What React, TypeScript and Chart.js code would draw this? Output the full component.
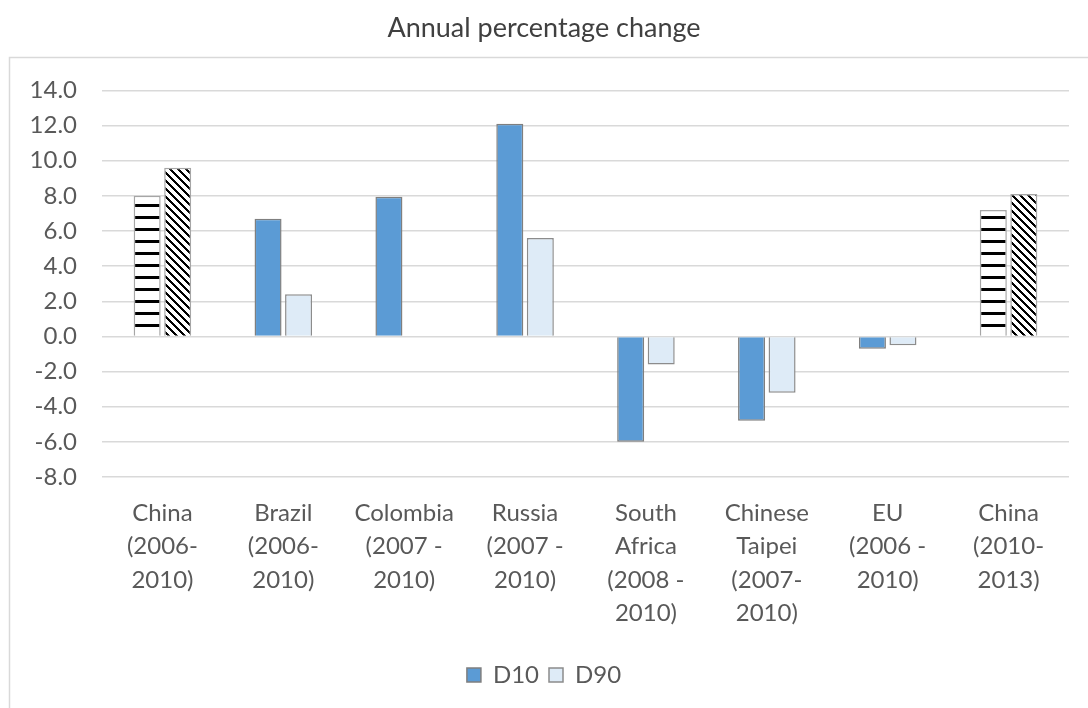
import { useEffect, useRef } from "react";
import { Chart, registerables } from "chart.js";

Chart.register(...registerables);

// Category labels, one array of lines per group
const categories: string[][] = [
  ["China", "(2006-", "2010)"],
  ["Brazil", "(2006-", "2010)"],
  ["Colombia", "(2007 -", "2010)"],
  ["Russia", "(2007 -", "2010)"],
  ["South", "Africa", "(2008 -", "2010)"],
  ["Chinese", "Taipei", "(2007-", "2010)"],
  ["EU", "(2006 -", "2010)"],
  ["China", "(2010-", "2013)"],
];

// Annual percentage change of the bottom (D10) and top (D90) deciles
const d10Values: (number | null)[] = [8.0, 6.7, 7.95, 12.1, -6.0, -4.8, -0.7, 7.2];
const d90Values: (number | null)[] = [9.6, 2.4, null, 5.6, -1.6, -3.2, -0.5, 8.1];

// Groups drawn with hatched fills instead of solid colours
const hatchedIndices: number[] = [0, 7];

const yMin = -8;
const yMax = 14;
const yStep = 2;

const FONT = "Lato, 'Open Sans', 'DejaVu Sans', sans-serif";
const TEXT = "#595959";
const GRID = "#d9d9d9";
const D10_COLOR = "#5B9BD5";
const D90_COLOR = "#DEEBF7";
const D10_BORDER = "#7f7f7f";
const D90_BORDER = "#8c8c8c";

function stripePattern(): CanvasPattern | string {
  const tile = document.createElement("canvas");
  tile.width = 8;
  tile.height = 12;
  const c = tile.getContext("2d");
  if (!c) return "#000";
  c.fillStyle = "#fff";
  c.fillRect(0, 0, 8, 12);
  c.fillStyle = "#000";
  c.fillRect(0, 0, 8, 3);
  return c.createPattern(tile, "repeat") || "#000";
}

function diagonalPattern(): CanvasPattern | string {
  const tile = document.createElement("canvas");
  tile.width = 8;
  tile.height = 8;
  const c = tile.getContext("2d");
  if (!c) return "#000";
  c.fillStyle = "#fff";
  c.fillRect(0, 0, 8, 8);
  c.fillStyle = "#000";
  for (let i = 0; i < 8; i++) {
    for (let k = 0; k < 3; k++) {
      c.fillRect((i + k) % 8, i, 1, 1);
    }
  }
  return c.createPattern(tile, "repeat") || "#000";
}

// Light frame around the plot region, open to the right and bottom
const framePlugin = {
  id: "outerFrame",
  beforeDraw(chart: Chart) {
    const { ctx, width, height } = chart;
    ctx.save();
    ctx.fillStyle = "#ffffff";
    ctx.fillRect(0, 0, width, height);
    ctx.strokeStyle = GRID;
    ctx.lineWidth = 1.5;
    ctx.beginPath();
    ctx.moveTo(9.5, height);
    ctx.lineTo(9.5, 57.5);
    ctx.lineTo(width, 57.5);
    ctx.stroke();
    ctx.restore();
  },
};

export default function App() {
  const canvasRef = useRef<HTMLCanvasElement | null>(null);

  useEffect(() => {
    const canvas = canvasRef.current;
    if (!canvas) return;
    const stripes = stripePattern();
    const diagonals = diagonalPattern();
    const isHatched = (c: any) => c.type === "data" && hatchedIndices.includes(c.dataIndex);

    const chart = new Chart(canvas, {
      type: "bar",
      data: {
        labels: categories,
        datasets: [
          {
            label: "D10",
            data: d10Values,
            backgroundColor: (c: any) => (isHatched(c) ? stripes : D10_COLOR),
            borderColor: (c: any) => (isHatched(c) ? "#a6a6a6" : D10_BORDER),
            borderWidth: 1.5,
            categoryPercentage: 0.505,
            barPercentage: 0.885,
          },
          {
            label: "D90",
            data: d90Values,
            backgroundColor: (c: any) => (isHatched(c) ? diagonals : D90_COLOR),
            borderColor: (c: any) => (isHatched(c) ? "#a6a6a6" : D90_BORDER),
            borderWidth: 1.5,
            categoryPercentage: 0.505,
            barPercentage: 0.885,
          },
        ],
      },
      options: {
        responsive: false,
        animation: false,
        layout: { padding: { left: 19, right: 19, top: 0, bottom: 11 } },
        plugins: {
          title: {
            display: true,
            text: "Annual percentage change",
            color: "#404040",
            font: { family: FONT, size: 27, weight: "normal", lineHeight: 1.2 },
            padding: { top: 12, bottom: 46 },
          },
          legend: {
            position: "bottom",
            labels: {
              color: TEXT,
              font: { family: FONT, size: 24 },
              boxWidth: 14,
              boxHeight: 14,
              padding: 10,
              generateLabels: () => [
                {
                  text: "D10",
                  fillStyle: D10_COLOR,
                  strokeStyle: D10_BORDER,
                  lineWidth: 1.5,
                  fontColor: TEXT,
                  hidden: false,
                  datasetIndex: 0,
                },
                {
                  text: "D90",
                  fillStyle: D90_COLOR,
                  strokeStyle: D90_BORDER,
                  lineWidth: 1.5,
                  fontColor: TEXT,
                  hidden: false,
                  datasetIndex: 1,
                },
              ],
            },
          },
          tooltip: { enabled: false },
        },
        scales: {
          x: {
            grid: { display: false, drawTicks: false },
            border: { display: false },
            ticks: {
              color: TEXT,
              font: { family: FONT, size: 24, lineHeight: 1.4 },
              padding: 19,
              maxRotation: 0,
              autoSkip: false,
            },
            afterFit(scale: any) {
              scale.height = 176;
            },
          },
          y: {
            min: yMin,
            max: yMax,
            grid: { color: GRID, lineWidth: 1.5, drawTicks: false },
            border: { display: false },
            ticks: {
              stepSize: yStep,
              color: TEXT,
              font: { family: FONT, size: 24 },
              padding: 25,
              callback: (v: any) => Number(v).toFixed(1),
            },
            afterFit(scale: any) {
              scale.width = 83;
            },
          },
        },
      },
      plugins: [framePlugin],
    });

    return () => chart.destroy();
  }, []);

  return (
    <div style={{ position: "fixed", left: 0, top: 0, width: 1088, height: 708, background: "#fff" }}>
      <canvas ref={canvasRef} width={1088} height={708} style={{ width: 1088, height: 708, display: "block" }} />
    </div>
  );
}
